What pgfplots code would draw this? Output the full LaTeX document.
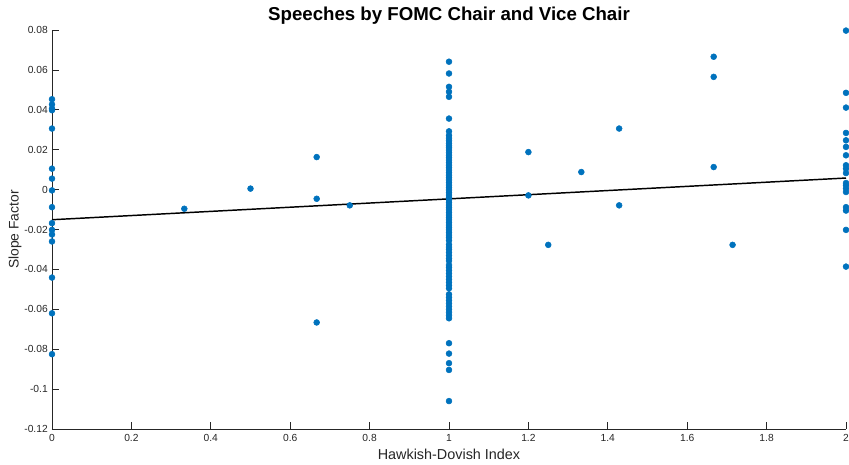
\documentclass[border=0pt]{standalone}
\usepackage{pgfplots}
\pgfplotsset{compat=1.18}
\usepackage{pgfplotstable}
\usepackage{fontspec}
\setmainfont{Liberation Sans}
\definecolor{mblue}{RGB}{0,114,189}
\definecolor{axgray}{RGB}{38,38,38}

\pgfplotstableread{
x y
0 0.0453
0 0.0427
0 0.0406
0 0.0398
0 0.0306
0 0.0105
0 0.0055
0 -0.0004
0 -0.0088
0 -0.0168
0 -0.0202
0 -0.0225
0 -0.0260
0 -0.0441
0 -0.0620
0 -0.0825
0.3333 -0.0096
0.5 0.0005
0.6667 0.0163
0.6667 -0.0046
0.6667 -0.0666
0.75 -0.0079
1.2 0.0188
1.2 -0.0029
1.25 -0.0277
1.3333 0.0088
1.4286 0.0306
1.4286 -0.0079
1.6667 0.0666
1.6667 0.0565
1.6667 0.0113
1.7143 -0.0277
2 0.0797
2 0.0485
2 0.0411
2 0.0284
2 0.0247
2 0.0214
2 0.0172
2 0.0122
2 0.0105
2 0.0083
2 0.0033
2 0.0021
2 0.0005
2 -0.0012
2 -0.0088
2 -0.0105
2 -0.0202
2 -0.0386
1 0.0641
1 0.0582
1 0.0515
1 0.0490
1 0.0465
1 0.0356
1 0.0292
1 0.0272
1 0.0258
1 0.0245
1 0.0232
1 0.0220
1 0.0210
1 0.0198
1 0.0185
1 0.0172
1 0.0160
1 0.0148
1 0.0135
1 0.0122
1 0.0110
1 0.0098
1 0.0085
1 0.0072
1 0.0060
1 0.0048
1 0.0035
1 0.0022
1 0.0010
1 -0.0002
1 -0.0015
1 -0.0028
1 -0.0040
1 -0.0052
1 -0.0065
1 -0.0078
1 -0.0090
1 -0.0102
1 -0.0115
1 -0.0128
1 -0.0140
1 -0.0152
1 -0.0165
1 -0.0178
1 -0.0190
1 -0.0202
1 -0.0215
1 -0.0228
1 -0.0240
1 -0.0255
1 -0.0275
1 -0.0288
1 -0.0300
1 -0.0315
1 -0.0330
1 -0.0345
1 -0.0357
1 -0.0378
1 -0.0390
1 -0.0405
1 -0.0420
1 -0.0435
1 -0.0450
1 -0.0465
1 -0.0480
1 -0.0495
1 -0.0525
1 -0.0540
1 -0.0555
1 -0.0570
1 -0.0585
1 -0.0600
1 -0.0615
1 -0.0630
1 -0.0645
1 -0.0770
1 -0.0822
1 -0.0870
1 -0.0904
1 -0.1060
}\scatterdata

\pgfplotstableread{
x y
0 -0.0151
2 0.0058
}\fitdata

\begin{document}
\begin{tikzpicture}
\begin{axis}[
  scale only axis,
  width=595.5pt, height=299.25pt,
  xmin=0, xmax=2, ymin=-0.12, ymax=0.08,
  axis lines*=left,
  axis line style={axgray, line width=0.5pt},
  clip=false,
  tick align=inside,
  major tick length=5.5pt,
  tick style={axgray, line width=0.5pt},
  xtick={0,0.2,0.4,0.6,0.8,1,1.2,1.4,1.6,1.8,2},
  xticklabels={0,0.2,0.4,0.6,0.8,1,1.2,1.4,1.6,1.8,2},
  ytick={-0.12,-0.1,-0.08,-0.06,-0.04,-0.02,0,0.02,0.04,0.06,0.08},
  yticklabels={-0.12,-0.1,-0.08,-0.06,-0.04,-0.02,0,0.02,0.04,0.06,0.08},
  ticklabel style={font=\fontsize{7.7pt}{9pt}\selectfont, text=axgray},
  xticklabel style={anchor=base, yshift=-9pt, inner sep=0pt},
  yticklabel style={anchor=east, inner sep=0pt, xshift=-3pt},
  title={Speeches by FOMC Chair and Vice Chair},
  title style={at={(axis description cs:0.5,1)}, anchor=base, yshift=0.75pt,
    font=\fontsize{14pt}{16pt}\selectfont\bfseries},
  xlabel={Hawkish-Dovish Index},
  xlabel style={at={(axis description cs:0.5,0)}, anchor=base, yshift=-22.5pt,
    font=\fontsize{10.8pt}{12pt}\selectfont, text=axgray},
  ylabel={Slope Factor},
  ylabel style={at={(axis description cs:-0.0466,0.5)}, anchor=center,
    font=\fontsize{10.4pt}{12pt}\selectfont, text=axgray},
]
\addplot[only marks, mark=*, mark size=2.2pt, mblue, mark options={draw=mblue, fill=mblue}] table[x=x,y=y] {\scatterdata};
\addplot[black, line width=1.1pt, no marks] table[x=x,y=y] {\fitdata};
\end{axis}
\pgfresetboundingbox
\path[use as bounding box] ([xshift=-39pt,yshift=-26.25pt]current axis.south west) rectangle ([xshift=2.25pt,yshift=22.5pt]current axis.north east);
\end{tikzpicture}
\end{document}
